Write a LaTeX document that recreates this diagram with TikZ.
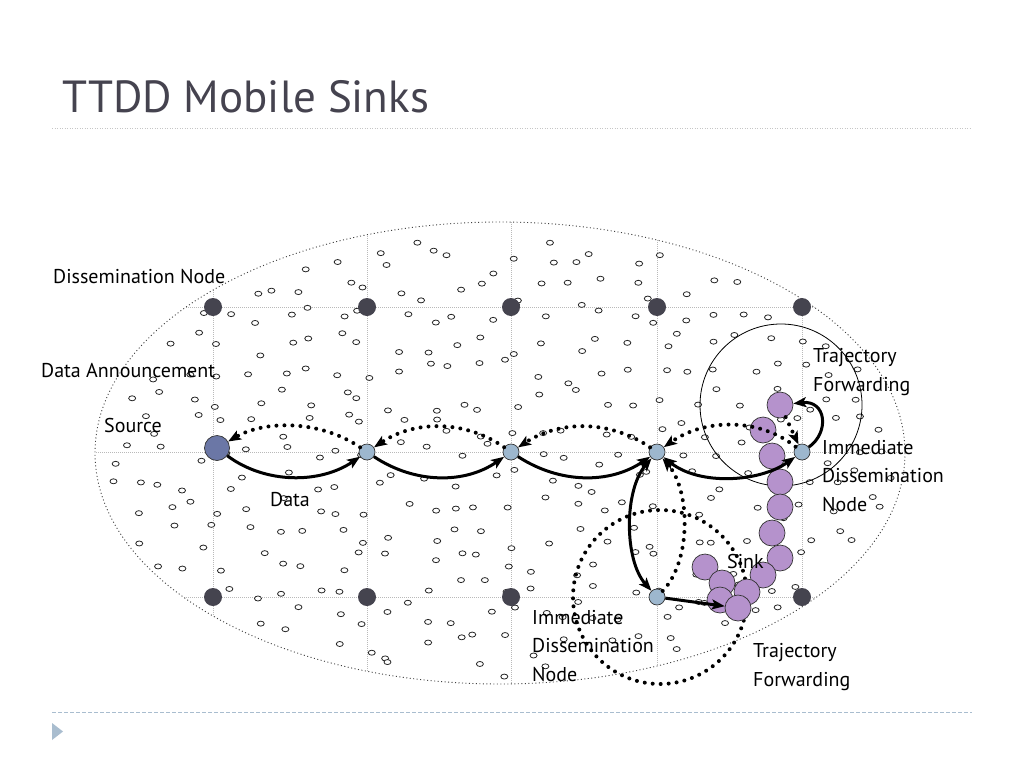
\documentclass[tikz,border=0pt]{standalone}
\usepackage{fontspec}
\setmainfont{PT Sans}
\usetikzlibrary{arrows.meta}
\definecolor{dnode}{HTML}{45444F}
\definecolor{srcc}{HTML}{6B77A6}
\definecolor{bnode}{HTML}{9DB7CE}
\definecolor{purp}{HTML}{B592CC}
\definecolor{titlec}{HTML}{45434F}
\definecolor{linec}{HTML}{A9BDCF}
\begin{document}
\begin{tikzpicture}[x=1pt,y=-1pt,
  gridl/.style={gray!55, line width=0.6pt, dash pattern=on 1pt off 1pt},
  sensor/.style={draw=black!85, fill=white, line width=0.8pt},
  dn/.style={circle, fill=dnode, minimum size=18pt, inner sep=0pt},
  srcn/.style={circle, draw=black!80, fill=srcc, minimum size=25pt, inner sep=0pt, line width=0.7pt},
  bn/.style={circle, draw=black!80, fill=bnode, minimum size=16pt, inner sep=0pt, line width=0.7pt},
  pn/.style={circle, draw=black!80, fill=purp, minimum size=26pt, inner sep=0pt, line width=0.7pt},
  tip/.tip={Stealth[length=13pt,width=10pt,inset=3pt]},
  data/.style={line width=3pt, -tip},
  ann/.style={line width=4pt, line cap=round, dash pattern=on 0pt off 8pt, -tip},
  dotc/.style={line width=4pt, line cap=round, dash pattern=on 0pt off 8pt},
  lbl/.style={font=\fontsize{20}{28.5}\selectfont, inner sep=0pt, align=left, anchor=west, text=black}
]
\useasboundingbox (0,0) rectangle (1024,768);
\fill[white] (0,0) rectangle (1024,768);

% title and rules
\node[anchor=base west, font=\fontsize{45}{50}\selectfont, text=titlec, inner sep=0pt] (title) at (62,112) {TTDD Mobile Sinks};
\coordinate (r1a) at (52,128); \coordinate (r1b) at (972,128);
\draw[gray!45, line width=1pt, dash pattern=on 1pt off 1.5pt] (r1a) -- (r1b);
\coordinate (r2a) at (52,712); \coordinate (r2b) at (972,712);
\draw[linec, line width=0.8pt, dash pattern=on 4pt off 2pt] (r2a) -- (r2b);
\fill[linec] (52,723) -- (63,731.5) -- (52,740) -- cycle;

% grid clipped to field
\begin{scope}
\clip (500,453) ellipse (405 and 231);
\foreach \x in {213,367,511,657,802} \draw[gridl] (\x,200) -- (\x,700);
\foreach \y in {307,452,597} \draw[gridl] (80,\y) -- (930,\y);
\end{scope}
\draw[black!75, line width=0.9pt, dash pattern=on 1pt off 2.5pt] (500,453) ellipse (405 and 231);

% sensors
\pgfmathsetseed{11}
\foreach \i in {0,...,27}{
  \foreach \j in {0,...,16}{
    \pgfmathsetmacro\px{95+\i*29+rnd*25}
    \pgfmathsetmacro\py{222+\j*27.5+rnd*24}
    \pgfmathsetmacro\ins{((\px-500)/398)^2+((\py-453)/224)^2<1 ? 1 : 0}
    \ifdim\ins pt>0.5pt \draw[sensor] (\px,\py) ellipse (3.5 and 2.5); \fi
  }
}

% dissemination nodes
\node[dn] (d11) at (213,307) {};
\node[dn] (d12) at (367,307) {};
\node[dn] (d13) at (511,307) {};
\node[dn] (d14) at (657,307) {};
\node[dn] (d15) at (802,307) {};
\node[dn] (d31) at (213,597) {};
\node[dn] (d32) at (367,597) {};
\node[dn] (d33) at (511,597) {};
\node[dn] (d35) at (802,597) {};

\node[srcn] (src) at (217,448) {};
\node[bn] (b2) at (367,452) {};
\node[bn] (b3) at (511,452) {};
\node[bn] (b4) at (657,452) {};
\node[bn] (b5) at (802,452) {};
\node[bn] (b45) at (657,597) {};

% trajectory circles
\draw[black, line width=0.8pt] (781,405) circle (81);
\draw[dotc] (660,597) circle (87);

% sink trajectory
\node[pn] (p13) at (705,567) {};
\node[pn] (p12) at (722,583) {};
\node[pn] (p11) at (720,600) {};
\node[pn] (p1) at (780,405) {};
\node[pn] (p2) at (763,430) {};
\node[pn] (p3) at (772,456) {};
\node[pn] (p4) at (780,482) {};
\node[pn] (p5) at (780,507) {};
\node[pn] (p6) at (772,533) {};
\node[pn] (p7) at (780,558) {};
\node[pn] (p8) at (763,575) {};
\node[pn] (p9) at (747,592) {};
\node[pn] (p10) at (738,608) {};

% data
\draw[data] (src) .. controls (265,484) and (320,484) .. (b2);
\draw[data] (b2) .. controls (415,484) and (465,484) .. (b3);
\draw[data] (b3) .. controls (560,484) and (610,484) .. (b4);
\draw[data, tip-tip] (b4) .. controls (700,486) and (760,482) .. (b5);
\draw[data] (b5) .. controls (830,432) and (826,400) .. (p1);
\draw[data, tip-tip] (b4) .. controls (624,490) and (624,560) .. (b45);
\draw[data] (b45) -- (p10);

% data announcement
\draw[ann] (b2) .. controls (320,420) and (265,420) .. (src);
\draw[ann] (b3) .. controls (465,420) and (415,420) .. (b2);
\draw[ann] (b4) .. controls (610,420) and (560,420) .. (b3);
\draw[ann] (b5) .. controls (760,418) and (705,418) .. (b4);
\draw[ann] (p1) -- (b5);
\draw[ann] (b45) .. controls (692,560) and (690,490) .. (b4);

% labels
\node[lbl] (l1) at (53,277) {Dissemination Node};
\node[lbl] (l2) at (41,371) {Data Announcement};
\node[lbl] (l3) at (104,425) {Source};
\node[lbl] (l4) at (270,500) {Data};
\node[lbl] (l5) at (813,372) {Trajectory\\Forwarding};
\node[lbl] (l6) at (822,476) {Immediate\\Dissemination\\Node};
\node[lbl] (l7) at (727,561) {Sink};
\node[lbl] (l8) at (532,646) {Immediate\\Dissemination\\Node};
\node[lbl] (l9) at (753,667) {Trajectory\\Forwarding};
\end{tikzpicture}
\end{document}
